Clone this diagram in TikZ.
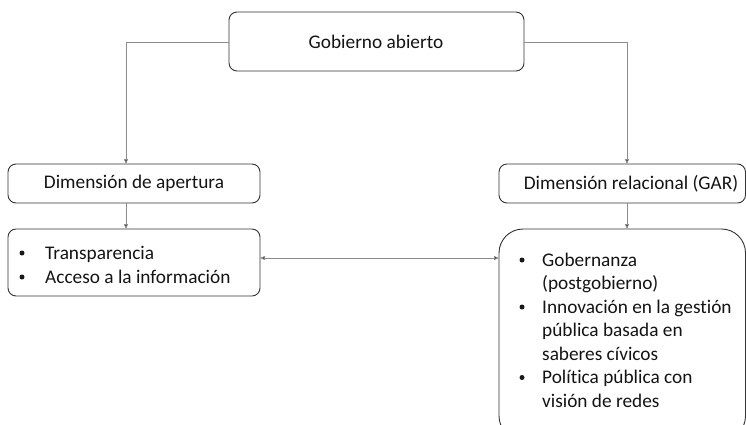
\documentclass[tikz,border=0pt]{standalone}
\usepackage{fontspec}
\setmainfont[Ligatures=NoCommon]{Carlito}
\usetikzlibrary{arrows.meta}
\begin{document}
\begin{tikzpicture}[x=1pt,y=-1pt,
  box/.style={draw=black!80,line width=0.9pt,rounded corners=8pt},
  conn/.style={draw=black!45,line width=0.8pt},
  arr/.style={conn,-{Triangle[length=5pt,width=4pt,fill=black!80]}},
  txt/.style={font=\fontsize{19.3}{23.5}\selectfont,text=black!92,inner sep=0pt},
  bul/.style={txt,anchor=base west},
  dot/.style={circle,fill=black!90,inner sep=0pt,minimum size=5pt}]
\useasboundingbox (0,0) rectangle (746,424);
% boxes
\draw[box] (229,12) rectangle (524,71);
\node[txt] (top) at (376,42) {Gobierno abierto};
\coordinate (topL) at (229,42);
\coordinate (topR) at (524,42);
\draw[box] (8,164) rectangle (260,203);
\node[txt] (da) at (134,183.5) {Dimensión de apertura};
\draw[box] (499,164) rectangle (745.5,203);
\node[txt] (dr) at (631,183.5) {Dimensión relacional (GAR)};
\draw[box] (8,229) rectangle (260,296);
\draw[box,rounded corners=24pt] (499,229) rectangle (745.5,440);
% anchors
\coordinate (daT) at (126,164);
\coordinate (daB) at (126,203);
\coordinate (lbT) at (126,229);
\coordinate (lbR) at (260,258);
\coordinate (drT) at (627,164);
\coordinate (drB) at (627,203);
\coordinate (rbT) at (627,229);
\coordinate (rbL) at (499,258);
% left list
\node[bul] (l1) at (45,259) {Transparencia};
\node[bul] (l2) at (45,283) {Acceso a la información};
\node[dot] at (22,253) {};
\node[dot] at (22,277) {};
% right list
\foreach \y/\t in {266/Gobernanza,289.5/(postgobierno),313/Innovación en la gestión,336.5/pública basada en,360/saberes cívicos,383.5/Política pública con,407/visión de redes}{
  \node[bul] at (542,\y) {\t};
}
\node[dot] at (522,260) {};
\node[dot] at (522,307) {};
\node[dot] at (522,377.5) {};
% connectors
\draw[arr] (topL) -- (126,42) -- (daT);
\draw[arr] (topR) -- (627,42) -- (drT);
\draw[arr] (daB) -- (lbT);
\draw[arr] (drB) -- (rbT);
\draw[conn,{Triangle[length=5pt,width=4pt,fill=black!80]}-{Triangle[length=5pt,width=4pt,fill=black!80]}] (lbR) -- (rbL);
\end{tikzpicture}
\end{document}
